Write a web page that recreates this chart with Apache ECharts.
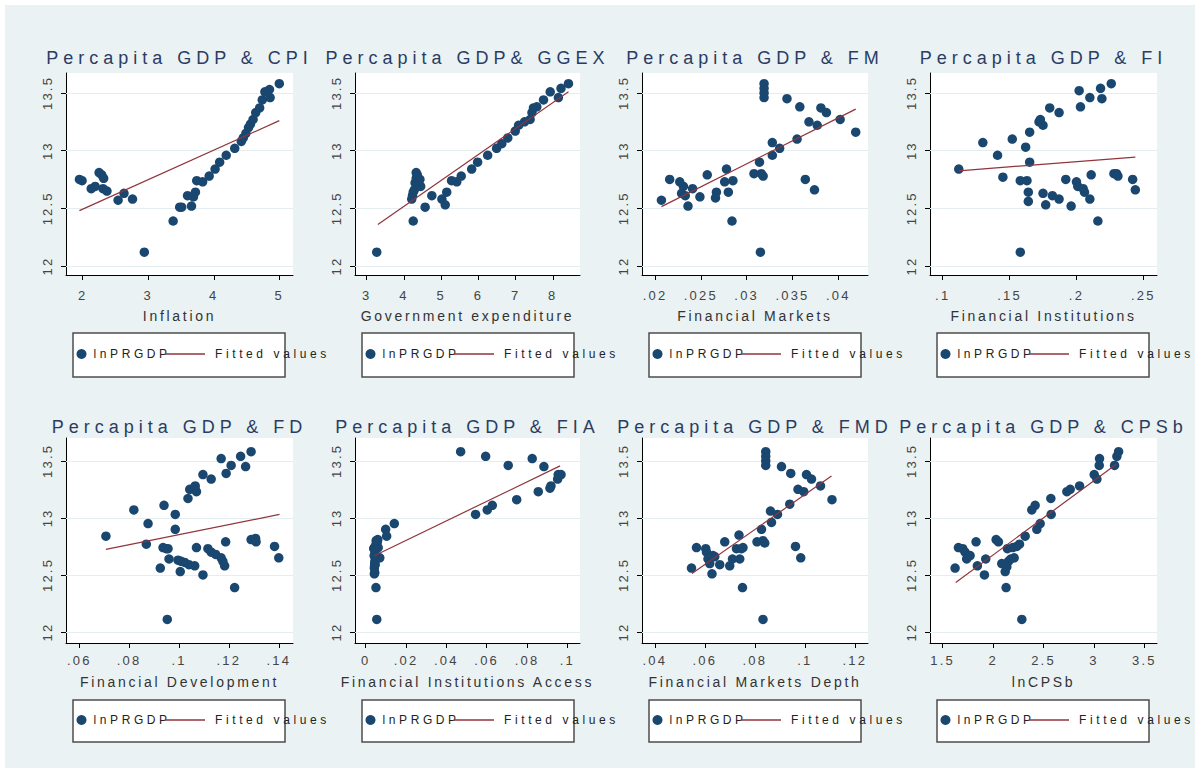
<!DOCTYPE html>
<html><head><meta charset="utf-8">
<script src="https://cdn.jsdelivr.net/npm/echarts@6/dist/echarts.min.js"></script>
<style>
html,body{margin:0;padding:0;background:#fff;width:1198px;height:773px;overflow:hidden;}
#bg{position:absolute;left:5px;top:5px;width:1190px;height:763px;background:#eaf2f3;}
.panel{position:absolute;overflow:visible;}
.panel div, .panel svg{overflow:visible !important;}
svg text[style*="18px"]{letter-spacing:5px;}
svg text[style*="14px"]{letter-spacing:2.7px;}
svg text[style*="13px"]{letter-spacing:2.2px;}
svg text[style*="12px"]{letter-spacing:3.6px;}
</style></head>
<body><div id="bg"></div>
<script>
// ---------------- DATA ----------------
const yTicks = [12, 12.5, 13, 13.5];
const legendNames = ['lnPRGDP', 'Fitted values'];
const titles = ['Percapita GDP & CPI', 'Percapita GDP& GGEX', 'Percapita GDP & FM', 'Percapita GDP & FI',
                'Percapita GDP & FD', 'Percapita GDP & FIA', 'Percapita GDP & FMD', 'Percapita GDP & CPSb'];
const xNames = ['Inflation', 'Government expenditure', 'Financial Markets', 'Financial Institutions',
                'Financial Development', 'Financial Institutions Access', 'Financial Markets Depth', 'lnCPSb'];

const ticksCPI = [2, 3, 4, 5];
const ticksGGEX = [3, 4, 5, 6, 7, 8];
const ticksFM = [0.02, 0.025, 0.03, 0.035, 0.04];
const ticksFI = [0.1, 0.15, 0.2, 0.25];
const ticksFD = [0.06, 0.08, 0.1, 0.12, 0.14];
const ticksFIA = [0, 0.02, 0.04, 0.06, 0.08, 0.1];
const ticksFMD = [0.04, 0.06, 0.08, 0.1, 0.12];
const ticksCPSb = [1.5, 2, 2.5, 3, 3.5];

const rangeCPI = [1.745, 5.209];
const rangeGGEX = [2.686, 8.73];
const rangeFM = [0.01858, 0.04324];
const rangeFI = [0.0905, 0.2602];
const rangeFD = [0.0547, 0.1457];
const rangeFIA = [-0.0053, 0.1063];
const rangeFMD = [0.0349, 0.1253];
const rangeCPSb = [1.374, 3.626];

const ptsCPI = [[1.95,12.75],[1.99,12.74],[2.13,12.67],[2.19,12.69],[2.25,12.81],[2.29,12.79],[2.32,12.76],[2.31,12.67],[2.37,12.65],[2.54,12.57],[2.63,12.63],[2.76,12.58],[2.94,12.12],[3.38,12.39],[3.48,12.51],[3.51,12.51],[3.60,12.61],[3.66,12.52],[3.69,12.60],[3.72,12.64],[3.74,12.74],[3.83,12.73],[3.93,12.78],[4.02,12.84],[4.09,12.90],[4.19,12.96],[4.32,13.02],[4.42,13.08],[4.45,13.11],[4.49,13.15],[4.53,13.20],[4.56,13.23],[4.60,13.27],[4.64,13.33],[4.70,13.37],[4.74,13.44],[4.78,13.51],[4.85,13.53],[4.86,13.46],[5.00,13.58]];
const fitCPI = [[1.95,12.48],[5.00,13.26]];

const ptsGGEX = [[3.27,12.12],[4.25,12.39],[4.21,12.58],[4.23,12.61],[4.25,12.64],[4.28,12.66],[4.30,12.72],[4.33,12.76],[4.33,12.81],[4.36,12.79],[4.40,12.74],[4.45,12.69],[4.43,12.75],[4.57,12.51],[4.75,12.61],[5.02,12.58],[5.11,12.53],[5.15,12.64],[5.28,12.74],[5.42,12.73],[5.54,12.78],[5.82,12.84],[5.98,12.90],[6.25,12.96],[6.49,13.02],[6.63,13.06],[6.79,13.11],[6.99,13.17],[7.08,13.22],[7.24,13.25],[7.39,13.27],[7.44,13.33],[7.48,13.37],[7.57,13.38],[7.75,13.44],[7.93,13.51],[8.15,13.46],[8.22,13.54],[8.42,13.58]];
const fitGGEX = [[3.30,12.36],[8.42,13.51]];

const ptsFM = [[0.0207,12.57],[0.0216,12.75],[0.0227,12.73],[0.0229,12.63],[0.0231,12.69],[0.0233,12.61],[0.0236,12.52],[0.0241,12.67],[0.0249,12.60],[0.0257,12.79],[0.0266,12.59],[0.0267,12.64],[0.0278,12.84],[0.0276,12.73],[0.0280,12.64],[0.0284,12.39],[0.0285,12.74],[0.0308,12.80],[0.0314,12.90],[0.0315,12.12],[0.0316,12.80],[0.0318,12.78],[0.0319,13.58],[0.0319,13.54],[0.0319,13.50],[0.0319,13.46],[0.0328,13.07],[0.0328,12.96],[0.0336,13.02],[0.0344,13.45],[0.0355,13.10],[0.0358,13.38],[0.0364,12.75],[0.0368,13.25],[0.0374,12.66],[0.0377,13.22],[0.0381,13.37],[0.0387,13.33],[0.0402,13.27],[0.0419,13.16]];
const fitFM = [[0.0207,12.515],[0.0419,13.36]];

const ptsFI = [[0.112,12.84],[0.130,13.07],[0.141,12.96],[0.145,12.77],[0.152,13.10],[0.158,12.74],[0.158,12.12],[0.162,13.03],[0.163,12.74],[0.164,12.64],[0.164,12.56],[0.165,13.16],[0.165,12.90],[0.172,13.25],[0.173,13.27],[0.175,13.22],[0.175,12.63],[0.177,12.53],[0.180,13.37],[0.182,12.61],[0.187,13.33],[0.187,12.58],[0.192,12.75],[0.196,12.52],[0.200,12.73],[0.201,12.69],[0.202,13.52],[0.203,13.38],[0.205,12.67],[0.206,12.64],[0.210,12.58],[0.210,13.46],[0.211,12.79],[0.216,12.39],[0.218,13.54],[0.219,13.45],[0.226,13.58],[0.228,12.80],[0.230,12.80],[0.231,12.78],[0.242,12.75],[0.244,12.66]];
const fitFI = [[0.112,12.825],[0.244,12.944]];

const ptsFD = [[0.0707,12.84],[0.0819,13.07],[0.0869,12.77],[0.0876,12.95],[0.0925,12.56],[0.0936,12.74],[0.0949,12.73],[0.0956,12.73],[0.0940,13.11],[0.0953,12.11],[0.0960,12.64],[0.0985,13.03],[0.0985,12.90],[0.0996,12.63],[0.1009,12.62],[0.1023,12.61],[0.1040,12.59],[0.1063,12.58],[0.1005,12.53],[0.1036,13.17],[0.1043,13.25],[0.1063,13.27],[0.1070,13.23],[0.1065,13.28],[0.1070,12.74],[0.1096,12.50],[0.1096,13.38],[0.1129,13.34],[0.1116,12.73],[0.1129,12.70],[0.1147,12.68],[0.1169,12.65],[0.1176,12.62],[0.1183,12.58],[0.1169,13.52],[0.1189,13.39],[0.1187,12.79],[0.1209,13.46],[0.1223,12.39],[0.1247,13.54],[0.1267,13.45],[0.1289,13.58],[0.1289,12.81],[0.1307,12.82],[0.1309,12.79],[0.1383,12.75],[0.1400,12.65]];
const fitFD = [[0.0707,12.724],[0.1403,13.031]];

const ptsFIA = [[0.0055,12.11],[0.0051,12.39],[0.0043,12.51],[0.0045,12.52],[0.0043,12.56],[0.0044,12.58],[0.0047,12.59],[0.0045,12.61],[0.0047,12.63],[0.0070,12.65],[0.0042,12.67],[0.0046,12.69],[0.0040,12.73],[0.0043,12.74],[0.0062,12.74],[0.0048,12.75],[0.0052,12.77],[0.0058,12.79],[0.0052,12.80],[0.0060,12.81],[0.0104,12.84],[0.0099,12.90],[0.0142,12.95],[0.0545,13.03],[0.0603,13.07],[0.0628,13.11],[0.0749,13.16],[0.0856,13.23],[0.0914,13.26],[0.0919,13.28],[0.0952,13.34],[0.0955,13.38],[0.0969,13.38],[0.0884,13.45],[0.0707,13.46],[0.0826,13.52],[0.0595,13.54],[0.0471,13.58]];
const fitFIA = [[0.0043,12.668],[0.0964,13.456]];

const ptsFMD = [[0.0547,12.56],[0.0567,12.74],[0.0604,12.73],[0.0607,12.70],[0.0613,12.64],[0.0620,12.60],[0.0633,12.67],[0.0640,12.66],[0.0629,12.51],[0.0660,12.59],[0.0680,12.79],[0.0700,12.58],[0.0711,12.64],[0.0727,12.73],[0.0737,12.85],[0.0740,12.64],[0.0747,12.73],[0.0753,12.74],[0.0751,12.39],[0.0809,12.79],[0.0827,12.90],[0.0833,12.80],[0.0840,12.78],[0.0833,12.11],[0.0844,13.58],[0.0844,13.54],[0.0844,13.50],[0.0844,13.46],[0.0863,13.06],[0.0867,12.96],[0.0891,13.03],[0.0907,13.45],[0.0940,13.12],[0.0944,13.39],[0.0963,12.75],[0.0973,13.25],[0.0984,12.65],[0.0996,13.23],[0.1007,13.38],[0.1027,13.34],[0.1063,13.28],[0.1109,13.16]];
const fitFMD = [[0.0549,12.513],[0.1107,13.368]];

const ptsCPSb = [[1.623,12.56],[1.656,12.74],[1.699,12.73],[1.722,12.70],[1.738,12.64],[1.772,12.67],[1.831,12.79],[1.844,12.58],[1.914,12.50],[1.927,12.64],[2.030,12.81],[2.053,12.79],[2.086,12.60],[2.120,12.53],[2.136,12.57],[2.152,12.62],[2.175,12.64],[2.209,12.65],[2.129,12.39],[2.142,12.73],[2.195,12.74],[2.235,12.75],[2.262,12.77],[2.285,12.11],[2.318,12.84],[2.384,13.07],[2.417,13.11],[2.434,12.90],[2.467,12.95],[2.573,13.17],[2.576,13.03],[2.732,13.23],[2.765,13.25],[2.858,13.28],[3.003,13.38],[3.030,13.34],[3.053,13.46],[3.056,13.52],[3.205,13.46],[3.228,13.54],[3.245,13.58]];
const fitCPSb = [[1.629,12.434],[3.222,13.47]];

// ---------------- LAYOUT ----------------
const panelData = [
  [ptsCPI, fitCPI, ticksCPI, rangeCPI], [ptsGGEX, fitGGEX, ticksGGEX, rangeGGEX],
  [ptsFM, fitFM, ticksFM, rangeFM], [ptsFI, fitFI, ticksFI, rangeFI],
  [ptsFD, fitFD, ticksFD, rangeFD], [ptsFIA, fitFIA, ticksFIA, rangeFIA],
  [ptsFMD, fitFMD, ticksFMD, rangeFMD], [ptsCPSb, fitCPSb, ticksCPSb, rangeCPSb]
];
const cols = [
  {x: 25, w: 291, gl: 41, gw: 227},
  {x: 316, w: 287, gl: 39, gw: 225},
  {x: 603, w: 288, gl: 39, gw: 226},
  {x: 891, w: 300, gl: 39, gw: 227}
];
const rows = [
  {y: 25, h: 370, gt: 48, gh: 202, yMin: 11.922, yMax: 13.673, lblMargin: 14, nameGap: 34, titleTop: 24, legTop: 308, legH: 44},
  {y: 395, h: 373, gt: 43, gh: 205, yMin: 11.904, yMax: 13.70, lblMargin: 11, nameGap: 32, titleTop: 23, legTop: 305, legH: 42}
];

function fmt(v) {
  const s = String(Math.round(v * 1e6) / 1e6);
  return s.replace(/^0\./, '.').replace(/^-0\./, '-.');
}

const NAVY = '#1a476f', MAROON = '#90353b', FONT = 'Liberation Sans, Arial, sans-serif';

panelData.forEach((pd, i) => {
  const [pts, fit, ticks, range] = pd;
  const col = cols[i % 4], row = rows[Math.floor(i / 4)];
  const div = document.createElement('div');
  div.className = 'panel';
  div.style.left = col.x + 'px'; div.style.top = row.y + 'px';
  div.style.width = col.w + 'px'; div.style.height = row.h + 'px';
  document.body.appendChild(div);
  const chart = echarts.init(div, null, {renderer: 'svg'});
  const boxL = col.gl + 7, boxW = 212;
  const legMid = row.legTop + row.legH / 2;
  chart.setOption({
    animation: false,
    backgroundColor: 'transparent',
    title: {
      text: titles[i], left: col.gl + col.gw / 2, textAlign: 'center', top: row.titleTop, padding: 0,
      textStyle: {fontFamily: FONT, fontSize: 18, fontWeight: 'normal', color: '#2b3c63', lineHeight: 18}
    },
    grid: {left: col.gl, top: row.gt, width: col.gw, height: row.gh, show: true, backgroundColor: '#ffffff', borderWidth: 0},
    graphic: [{
      type: 'rect', z: 0, silent: true,
      shape: {x: boxL, y: row.legTop, width: boxW, height: row.legH},
      style: {fill: '#ffffff', stroke: '#4d4d4d', lineWidth: 1.5}
    }],
    legend: [
      {data: [{name: legendNames[0], icon: 'circle'}], left: boxL + 3.5, top: legMid - 7, padding: 0,
       itemWidth: 14, itemHeight: 10, textStyle: {fontFamily: FONT, fontSize: 12, color: '#222'}, selectedMode: false, z: 5},
      {data: [{name: legendNames[1], icon: 'rect'}], left: boxL + 92, top: legMid - 7, padding: 0,
       itemWidth: 40, itemHeight: 1.4, textStyle: {fontFamily: FONT, fontSize: 12, color: '#222', padding: [0, 0, 0, 5]}, selectedMode: false, z: 5}
    ],
    xAxis: {
      type: 'value', min: range[0], max: range[1], scale: true,
      name: xNames[i], nameLocation: 'middle', nameGap: row.nameGap,
      nameTextStyle: {fontFamily: FONT, fontSize: 14, color: '#333'},
      axisLine: {show: true, onZero: false, lineStyle: {color: '#000', width: 1}},
      axisTick: {show: true, length: 5, customValues: ticks, lineStyle: {color: '#000'}},
      axisLabel: {customValues: ticks, formatter: fmt, margin: row.lblMargin, fontFamily: FONT, fontSize: 13, color: '#444'},
      splitLine: {show: false}
    },
    yAxis: {
      type: 'value', min: row.yMin, max: row.yMax, scale: true,
      axisLine: {show: true, onZero: false, lineStyle: {color: '#000', width: 1}},
      axisTick: {show: true, length: 5, customValues: yTicks, lineStyle: {color: '#000'}},
      axisLabel: {customValues: yTicks, formatter: fmt, rotate: 90, margin: 12, fontFamily: FONT, fontSize: 13, color: '#444'},
      splitLine: {show: false}
    },
    series: [
      {
        name: legendNames[0], type: 'scatter', data: pts, symbolSize: 9.5, z: 3,
        itemStyle: {color: NAVY, opacity: 1},
        markLine: {
          silent: true, symbol: 'none', z: 1, animation: false,
          label: {show: false},
          lineStyle: {color: '#e4edef', width: 1.2, type: 'solid'},
          data: yTicks.map(v => ({yAxis: v}))
        }
      },
      {
        name: legendNames[1], type: 'line', data: fit, symbol: 'none', showSymbol: false, z: 4,
        lineStyle: {color: MAROON, width: 1.2}, itemStyle: {color: MAROON}
      }
    ]
  });
});
</script>
</body></html>
